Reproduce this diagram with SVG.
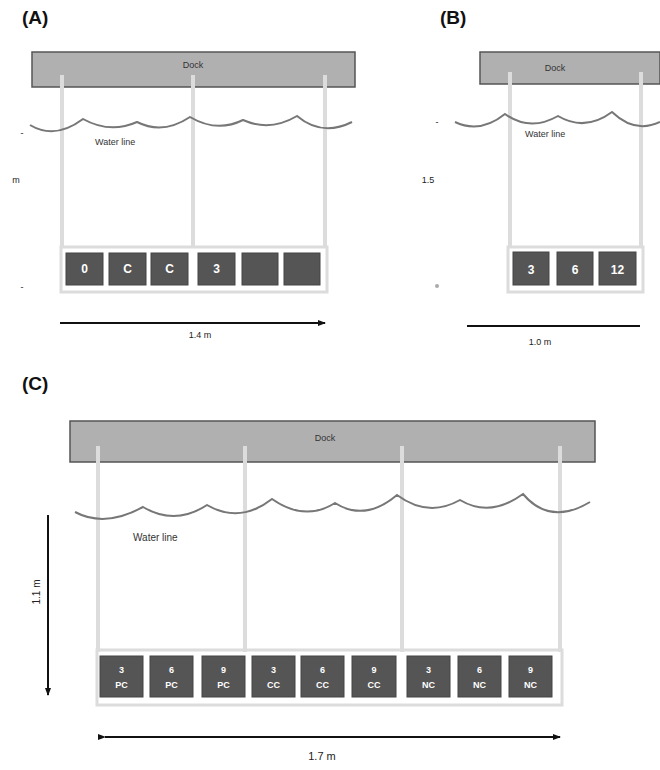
<svg xmlns="http://www.w3.org/2000/svg" width="660" height="770" viewBox="0 0 660 770">
<defs>
<style>
.lbl{font-family:"Liberation Sans",Arial,sans-serif;font-weight:bold;font-size:19px;fill:#111}
.dock{fill:#b0b0b0;stroke:#555;stroke-width:1.5}
.dtxt{font-family:"Liberation Sans",Arial,sans-serif;font-size:9px;fill:#333;text-anchor:middle}
.post{stroke:#dcdcdc;stroke-width:4;fill:none}
.wave{stroke:#777;stroke-width:2;fill:none}
.wtxt{font-family:"Liberation Sans",Arial,sans-serif;font-size:9px;fill:#333}
.frame{fill:none;stroke:#dcdcdc;stroke-width:3}
.box{fill:#555;stroke:#444;stroke-width:1}
.btxt{font-family:"Liberation Sans",Arial,sans-serif;font-weight:bold;font-size:12px;fill:#fff;text-anchor:middle}
.btxt2{font-family:"Liberation Sans",Arial,sans-serif;font-weight:bold;font-size:9px;fill:#fff;text-anchor:middle}
.dim{stroke:#111;stroke-width:2;fill:none}
.mtxt{font-family:"Liberation Sans",Arial,sans-serif;font-size:9px;fill:#222;text-anchor:middle}
</style>
<marker id="ah" markerWidth="8" markerHeight="8" refX="7" refY="4" orient="auto" markerUnits="userSpaceOnUse">
<path d="M0,1 L8,4 L0,7 Z" fill="#111"/>
</marker>
</defs>

<!-- Panel A -->
<g id="panelA">
<text class="lbl" x="22" y="24">(A)</text>
<g id="A-dock"><rect class="dock" x="32" y="52" width="323" height="35"/><text class="dtxt" x="193" y="68">Dock</text></g>
<g id="A-posts"><line class="post" x1="62" y1="75" x2="62" y2="248"/><line class="post" x1="193" y1="75" x2="193" y2="248"/><line class="post" x1="325" y1="75" x2="325" y2="248"/></g>
<g id="A-water"><path class="wave" d="M30,125 Q55,140 83,119 Q110,134 137,122 Q163,135 190,117 Q217,133 243,120 Q270,132 297,116 Q322,137 352,122"/><text class="wtxt" x="95" y="145">Water line</text></g>
<rect class="frame" x="61" y="247" width="266" height="45"/>
<g id="A-b1"><rect class="box" x="66" y="253" width="37" height="32"/><text class="btxt" x="84.5" y="273">0</text></g>
<g id="A-b2"><rect class="box" x="109" y="253" width="37" height="32"/><text class="btxt" x="127.5" y="273">C</text></g>
<g id="A-b3"><rect class="box" x="151" y="253" width="37" height="32"/><text class="btxt" x="169.5" y="273">C</text></g>
<g id="A-b4"><rect class="box" x="198" y="253" width="37" height="32"/><text class="btxt" x="216.5" y="273">3</text></g>
<g id="A-b5"><rect class="box" x="242" y="253" width="36" height="32"/></g>
<g id="A-b6"><rect class="box" x="284" y="253" width="36" height="32"/></g>
<text class="mtxt" x="22" y="136">-</text>
<text class="mtxt" x="16" y="183">m</text>
<text class="mtxt" x="22" y="290">-</text>
</g>

<!-- Panel B -->
<g id="panelB">
<text class="lbl" x="440" y="24">(B)</text>
<g id="B-dock"><rect class="dock" x="480" y="52" width="180" height="32"/><text class="dtxt" x="555" y="71">Dock</text></g>
<g id="B-posts"><line class="post" x1="510" y1="72" x2="510" y2="248"/><line class="post" x1="641" y1="72" x2="641" y2="248"/></g>
<g id="B-water"><path class="wave" d="M455,122 Q480,134 505,114 Q530,132 558,116 Q585,132 612,112 Q635,134 660,122"/><text class="wtxt" x="525" y="137">Water line</text></g>
<rect class="frame" x="508" y="247" width="135" height="45"/>
<g id="B-b1"><rect class="box" x="513" y="252" width="36" height="33"/><text class="btxt" x="531" y="274">3</text></g>
<g id="B-b2"><rect class="box" x="557" y="252" width="36" height="33"/><text class="btxt" x="575" y="274">6</text></g>
<g id="B-b3"><rect class="box" x="599" y="252" width="37" height="33"/><text class="btxt" x="617.5" y="274">12</text></g>
<text class="mtxt" x="437" y="125">-</text>
<text class="mtxt" x="428" y="183">1.5</text>
<circle cx="437" cy="286" r="2" fill="#aaa"/>
</g>

<!-- Panel C -->
<g id="panelC">
<text class="lbl" x="22" y="390">(C)</text>
<g id="C-dock"><rect class="dock" x="70" y="421" width="525" height="41"/><text class="dtxt" x="325" y="441">Dock</text></g>
<g id="C-posts"><line class="post" x1="98" y1="446" x2="98" y2="652"/><line class="post" x1="245" y1="446" x2="245" y2="652"/><line class="post" x1="402" y1="446" x2="402" y2="652"/><line class="post" x1="560" y1="446" x2="560" y2="652"/></g>
<g id="C-water"><path class="wave" d="M75,512 Q105,528 143,507 Q175,526 207,505 Q240,524 272,499 Q305,522 335,503 Q365,522 397,495 Q428,518 460,500 Q490,518 523,494 Q550,526 590,502"/><text class="wtxt" x="133" y="541" style="font-size:10px">Water line</text></g>
<rect class="frame" x="97" y="650" width="465" height="55"/>
<g id="C-b1"><rect class="box" x="100" y="656" width="43" height="41"/><text class="btxt2" x="121.5" y="673">3</text><text class="btxt2" x="121.5" y="688">PC</text></g>
<g id="C-b2"><rect class="box" x="150" y="656" width="43" height="41"/><text class="btxt2" x="171.5" y="673">6</text><text class="btxt2" x="171.5" y="688">PC</text></g>
<g id="C-b3"><rect class="box" x="202" y="656" width="43" height="41"/><text class="btxt2" x="223.5" y="673">9</text><text class="btxt2" x="223.5" y="688">PC</text></g>
<g id="C-b4"><rect class="box" x="252" y="656" width="43" height="41"/><text class="btxt2" x="273.5" y="673">3</text><text class="btxt2" x="273.5" y="688">CC</text></g>
<g id="C-b5"><rect class="box" x="301" y="656" width="43" height="41"/><text class="btxt2" x="322.5" y="673">6</text><text class="btxt2" x="322.5" y="688">CC</text></g>
<g id="C-b6"><rect class="box" x="352" y="656" width="44" height="41"/><text class="btxt2" x="374" y="673">9</text><text class="btxt2" x="374" y="688">CC</text></g>
<g id="C-b7"><rect class="box" x="407" y="656" width="43" height="41"/><text class="btxt2" x="428.5" y="673">3</text><text class="btxt2" x="428.5" y="688">NC</text></g>
<g id="C-b8"><rect class="box" x="458" y="656" width="43" height="41"/><text class="btxt2" x="479.5" y="673">6</text><text class="btxt2" x="479.5" y="688">NC</text></g>
<g id="C-b9"><rect class="box" x="509" y="656" width="43" height="41"/><text class="btxt2" x="530.5" y="673">9</text><text class="btxt2" x="530.5" y="688">NC</text></g>
</g>

<!-- Connectors / dimension lines -->
<g id="connectors">
<line class="dim" x1="60" y1="323" x2="325" y2="323" marker-end="url(#ah)"/>
<text class="mtxt" x="200" y="338">1.4 m</text>
<line class="dim" x1="467" y1="326" x2="640" y2="326"/>
<text class="mtxt" x="540" y="345">1.0 m</text>
<line class="dim" x1="48" y1="515" x2="48" y2="695" marker-end="url(#ah)"/>
<text class="mtxt" transform="translate(40,592) rotate(-90)" style="font-size:10px">1.1 m</text>
<line class="dim" x1="105" y1="737" x2="560" y2="737" marker-start="url(#ah)" marker-end="url(#ah)"/>
<text class="mtxt" x="322" y="760" style="font-size:11px">1.7 m</text>
</g>
</svg>
